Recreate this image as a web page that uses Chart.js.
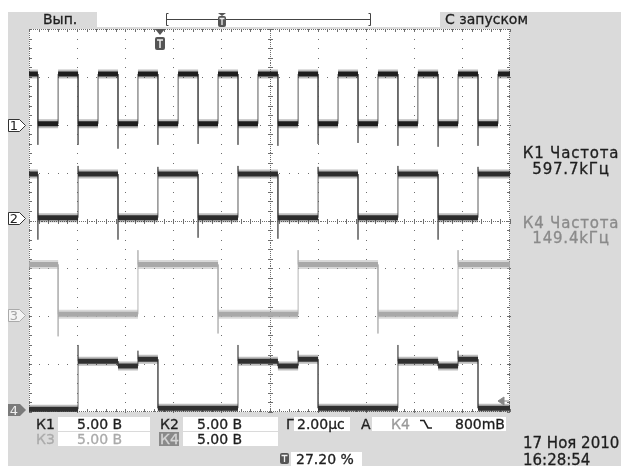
<!DOCTYPE html>
<html><head><meta charset="utf-8">
<script src="https://cdn.jsdelivr.net/npm/chart.js@4/dist/chart.umd.min.js"></script>
<style>
body{margin:0;width:621px;height:466px;position:relative;background:#fff;overflow:hidden;font-family:'DejaVu Sans',sans-serif}
.g{position:absolute;background:#dadada}
.w{position:absolute;background:#fff}
.t{position:absolute;font-size:14px;line-height:14px;color:#1e1e1e;white-space:nowrap;z-index:3;-webkit-text-stroke:0.3px currentColor}
#c{position:absolute;left:0;top:0;z-index:1}
#ov{position:absolute;left:0;top:0;z-index:2}
</style></head><body>
<div class="g" style="left:8px;top:12px;width:89px;height:15px"></div>
<div class="g" style="left:440px;top:12px;width:181px;height:15px"></div>
<div class="g" style="left:8px;top:27px;width:613px;height:439px"></div>
<div class="w" style="left:58px;top:417px;width:92px;height:14px"></div>
<div class="w" style="left:183px;top:417px;width:95px;height:14px"></div>
<div class="w" style="left:294px;top:417px;width:56px;height:14px"></div>
<div class="w" style="left:372px;top:417px;width:134px;height:14px"></div>
<div class="w" style="left:58px;top:432px;width:92px;height:14px"></div>
<div class="w" style="left:183px;top:432px;width:95px;height:14px"></div>
<div class="w" style="left:291px;top:452px;width:71px;height:14px"></div>
<div class="g" style="left:159px;top:432px;width:20px;height:14px;background:#8a8a8a;z-index:2"></div>

<canvas id="c" width="621" height="466"></canvas>

<svg id="ov" width="621" height="466" xmlns="http://www.w3.org/2000/svg">
  <path d="M168.5,13.5 H166.5 V25.5 H168.5 M368.5,13.5 H370.5 V25.5 H368.5 M166.5,19.5 H370.5" stroke="#444" fill="none"/>
  <path d="M218,13 L226,13 L222,16 Z" fill="#555"/>
  <rect x="218" y="16" width="8" height="11" rx="2" fill="#555"/>
  <path d="M219.5,18.5 H224.5 M222,18.5 V25" stroke="#eee" stroke-width="1.3"/>
  <path d="M155,29 L165,29 L160,35 Z" fill="#555"/>
  <rect x="155" y="37" width="10" height="13" rx="2" fill="#555"/>
  <path d="M157,40 H163 M160,40 V48" stroke="#eee" stroke-width="1.5"/>
  <path d="M8.5,119.5 H19.5 L25.5,125.5 L19.5,131.5 H8.5 Z" fill="#fff" stroke="#333"/>
  <text x="14" y="130" font-family="DejaVu Sans" font-size="13" text-anchor="middle" fill="#222">1</text>
  <path d="M8.5,212.5 H19.5 L25.5,218.5 L19.5,224.5 H8.5 Z" fill="#fff" stroke="#333"/>
  <text x="14" y="223" font-family="DejaVu Sans" font-size="13" text-anchor="middle" fill="#222">2</text>
  <path d="M8.5,309.5 H19.5 L25.5,315.5 L19.5,321.5 H8.5 Z" fill="#f4f4f4" stroke="#aaa"/>
  <text x="14" y="320" font-family="DejaVu Sans" font-size="13" text-anchor="middle" fill="#a5a5a5">3</text>
  <path d="M8,404 H20 L26,410 L20,416 H8 Z" fill="#7a7a7a"/>
  <text x="14" y="415" font-family="DejaVu Sans" font-size="13" text-anchor="middle" fill="#f0f0f0">4</text>
  <path d="M498,401 L504,397 L504,405 Z M504,401 H509" fill="#888" stroke="#888"/>
  <path d="M420,420.5 H424 L428,428 H432" stroke="#222" stroke-width="1.6" fill="none"/>
  <rect x="280" y="453" width="9" height="11" rx="2" fill="#555"/>
  <path d="M281.5,455.5 H287.5 M284.5,455.5 V462" stroke="#eee" stroke-width="1.3"/>
</svg>

<div class="t" style="left:43px;top:12px">Вып.</div>
<div class="t" style="left:445px;top:12px">С запуском</div>

<div class="t" style="left:516px;top:146px;width:110px;text-align:center;font-size:15px;line-height:15px;letter-spacing:0.8px">К1 Частота</div>
<div class="t" style="left:516px;top:162px;width:110px;text-align:center;font-size:15px;line-height:15px;letter-spacing:0.8px">597.7kГц</div>
<div class="t" style="left:516px;top:216px;width:110px;text-align:center;font-size:15px;line-height:15px;letter-spacing:0.8px;color:#8a8a8a">К4 Частота</div>
<div class="t" style="left:516px;top:231px;width:110px;text-align:center;font-size:15px;line-height:15px;letter-spacing:0.8px;color:#8a8a8a">149.4kГц</div>

<div class="t" style="left:36px;top:417px">К1</div>
<div class="t" style="left:77px;top:417px">5.00 В</div>
<div class="t" style="left:160px;top:417px">К2</div>
<div class="t" style="left:197px;top:417px">5.00 В</div>
<div class="t" style="left:286px;top:417px">Г</div>
<div class="t" style="left:297px;top:417px">2.00µс</div>
<div class="t" style="left:361px;top:417px">А</div>
<div class="t" style="left:391px;top:417px;color:#999">К4</div>
<div class="t" style="left:455px;top:417px">800mВ</div>

<div class="t" style="left:36px;top:432px;color:#aaa">К3</div>
<div class="t" style="left:77px;top:432px;color:#aaa">5.00 В</div>
<div class="t" style="left:160px;top:432px;color:#d6d6d6">К4</div>
<div class="t" style="left:197px;top:432px">5.00 В</div>

<div class="t" style="left:296px;top:452px">27.20 %</div>
<div class="t" style="left:523px;top:436px;font-size:15px;line-height:15px">17 Ноя 2010</div>
<div class="t" style="left:523px;top:453px;font-size:15px;line-height:15px">16:28:54</div>

<script>
// ---- data (time in µs, 2 µs/div; values in volts, 5 V/div) ----
const voltsPerDiv = 5;
const channelPos = [2, 0, -2, -4];      // channel zero markers, in divisions

const ch1Times  = [0, 0.37, 1.21, 2.04, 2.87, 3.70, 4.53, 5.36, 6.20, 7.03, 7.86, 8.69, 9.52, 10.35, 11.19, 12.02, 12.85, 13.68, 14.51, 15.34, 16.17, 17.01, 17.84, 18.67, 19.50, 20];
const ch1Levels = [5.3, 0.1, 5.3, 0.1, 5.3, 0.1, 5.3, 0.1, 5.3, 0.1, 5.3, 0.1, 5.3, 0.1, 5.3, 0.1, 5.3, 0.1, 5.3, 0.1, 5.3, 0.1, 5.3, 0.1, 5.3];
const ch1Spikes = [-2.1, null, -2.1, null, -2.5, null, -2.1, null, -2.0, null, -2.1, null, -2.2, null, -2.0, null, -1.9, null, -2.2, null, -2.3, null, -2.2, null];

const ch2Times  = [0, 0.37, 2.04, 3.70, 5.36, 7.03, 8.69, 10.35, 12.02, 13.68, 15.34, 17.01, 18.67, 20];
const ch2Levels = [4.85, 0.3, 4.85, 0.3, 4.85, 0.3, 4.85, 0.3, 4.85, 0.3, 4.85, 0.3, 4.85];
const ch2Spikes = [-2.0, 5.7, -2.0, 5.6, -1.8, 5.7, -1.9, 5.6, -2.0, 5.7, -2.0, 5.6];

const ch3Times  = [0, 1.21, 4.53, 7.86, 11.19, 14.51, 17.84, 20];
const ch3Levels = [5.4, 0.2, 5.4, 0.2, 5.4, 0.2, 5.4];
const ch3Spikes = [-2.1, 6.9, -1.8, 6.9, -1.8, 6.9];

const ch4Times  = [0, 2.04, 3.70, 4.53, 5.36, 8.69, 10.35, 11.19, 12.02, 15.34, 17.01, 17.84, 18.67, 20];
const ch4Levels = [0.3, 5.3, 4.8, 5.5, 0.4, 5.3, 4.8, 5.5, 0.4, 5.3, 4.8, 5.5, 0.4];
const ch4Spikes = [7.0, null, 6.4, null, 7.0, null, 6.4, null, 7.0, null, 6.4, null];

const traceColors = ['#1e1e1e', '#2c2c2c', '#a9a9a9', '#303030'];
const edgeColors  = ['#5a5a5a', '#5a5a5a', '#b4b4b4', '#666666'];

function build(times, levels, spikes, pos) {
  const lv = [], ed = [];
  for (let i = 0; i < levels.length; i++) {
    const y = pos + levels[i] / voltsPerDiv;
    lv.push({x: times[i], y}, {x: times[i + 1], y});
    if (i < levels.length - 1) lv.push({x: times[i + 1], y: null});
    ed.push({x: times[i], y}, {x: times[i + 1], y});
    if (i < levels.length - 1 && spikes[i] !== null) ed.push({x: times[i + 1], y: pos + spikes[i] / voltsPerDiv});
  }
  return [lv, ed];
}

const channels = [
  [ch1Times, ch1Levels, ch1Spikes],
  [ch2Times, ch2Levels, ch2Spikes],
  [ch3Times, ch3Levels, ch3Spikes],
  [ch4Times, ch4Levels, ch4Spikes]
];
const datasets = [];
channels.forEach((c, k) => {
  const [lv, ed] = build(c[0], c[1], c[2], channelPos[k]);
  const halo = k === 2 ? 'rgba(170,170,170,0.45)' : 'rgba(40,40,40,0.30)';
  datasets.push({data: ed, borderColor: edgeColors[k], borderWidth: 1, order: 30 - k, clip: 0});
  datasets.push({data: lv, borderColor: halo, borderWidth: 9, borderCapStyle: 'butt', spanGaps: false, order: 20 - k, clip: 0});
  datasets.push({data: lv, borderColor: traceColors[k], borderWidth: 5, borderCapStyle: 'butt', spanGaps: false, order: 10 - k, clip: 0});
});

const graticule = {
  id: 'graticule',
  beforeDatasetsDraw(chart) {
    const {ctx, chartArea: a, scales: {x, y}} = chart;
    ctx.save();
    ctx.fillStyle = '#fff';
    ctx.fillRect(a.left, a.top, a.right - a.left, a.bottom - a.top);
    ctx.fillStyle = '#6e6e6e';
    const dot = (px, py) => ctx.fillRect(Math.round(px), Math.round(py), 1, 1);
    for (let d = 1; d < 10; d++) {
      if (d === 5) continue;
      const px = x.getPixelForValue(d * 2);
      for (let s = 0; s <= 40; s++) dot(px, y.getPixelForValue(-4 + s * 0.2));
    }
    for (let d = -3; d <= 3; d++) {
      if (d === 0) continue;
      const py = y.getPixelForValue(d);
      for (let s = 0; s <= 50; s++) dot(x.getPixelForValue(s * 0.4), py);
    }
    const cx = x.getPixelForValue(10), cy = y.getPixelForValue(0);
    for (let s = 0; s <= 200; s++) dot(cx, y.getPixelForValue(-4 + s * 0.04));
    for (let s = 0; s <= 250; s++) dot(x.getPixelForValue(s * 0.08), cy);
    for (let s = 0; s <= 40; s++) { const py = Math.round(y.getPixelForValue(-4 + s * 0.2)); ctx.fillRect(Math.round(cx) - 2, py, 5, 1); }
    for (let s = 0; s <= 50; s++) { const px = Math.round(x.getPixelForValue(s * 0.4)); ctx.fillRect(px, Math.round(cy) - 2, 1, 5); }
    for (let px = a.left; px <= a.right; px += 2) { dot(px, a.top); dot(px, a.bottom - 1); }
    for (let py = a.top; py <= a.bottom; py += 2) { dot(a.left, py); dot(a.right - 1, py); }
    for (let s = 0; s <= 50; s++) {
      const px = Math.round(x.getPixelForValue(s * 0.4));
      ctx.fillRect(px, a.top, 1, 3); ctx.fillRect(px, a.bottom - 3, 1, 3);
    }
    for (let s = 0; s <= 40; s++) {
      const py = Math.round(y.getPixelForValue(-4 + s * 0.2));
      ctx.fillRect(a.left, py, 3, 1); ctx.fillRect(a.right - 3, py, 3, 1);
    }
    ctx.restore();
  }
};

new Chart(document.getElementById('c'), {
  type: 'line',
  data: {datasets},
  options: {
    responsive: false, animation: false, devicePixelRatio: 1,
    layout: {padding: {left: 29, right: 111, top: 29, bottom: 54}},
    parsing: false, normalized: true,
    elements: {point: {radius: 0}, line: {tension: 0}},
    scales: {
      x: {type: 'linear', min: 0, max: 20, display: false},
      y: {type: 'linear', min: -4, max: 4, display: false}
    },
    plugins: {legend: {display: false}, tooltip: {enabled: false}}
  },
  plugins: [graticule]
});
</script>
</body></html>
